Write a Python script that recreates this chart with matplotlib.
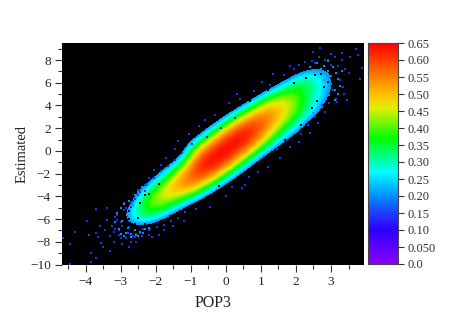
import matplotlib
matplotlib.use('Agg')
import matplotlib.pyplot as plt
import numpy as np
from matplotlib.colors import LinearSegmentedColormap

plt.rcParams['font.family'] = ['Liberation Serif', 'DejaVu Serif']

# density: rows from top (y = 9) to bottom, columns left to right
density = [
    [0, 0, 0, 0, 0, 0, 0, 0, 0, 0, 0, 0, 0, 0, 0, 0, 0],
    [0, 0, 0, 0, 0, 0, 0, 0, 0, 0, 0, 0, 0, 0, .08, .08, 0],
    [0, 0, 0, 0, 0, 0, 0, 0, 0, 0, 0, 0, 0, .20, .24, .16, 0],
    [0, 0, 0, 0, 0, 0, 0, 0, 0, 0, 0, 0, .22, .36, .28, .17, 0],
    [0, 0, 0, 0, 0, 0, 0, 0, 0, 0, 0, .24, .40, .38, .28, .16, 0],
    [0, 0, 0, 0, 0, 0, 0, 0, 0, 0, .24, .47, .49, .38, .25, .08, 0],
    [0, 0, 0, 0, 0, 0, 0, 0, 0, .24, .49, .58, .49, .34, .20, 0, 0],
    [0, 0, 0, 0, 0, 0, 0, 0, .20, .50, .63, .58, .40, .25, 0, 0, 0],
    [0, 0, 0, 0, 0, 0, 0, .15, .47, .64, .66, .50, .28, .10, 0, 0, 0],
    [0, 0, 0, 0, 0, 0, 0, .42, .62, .68, .58, .33, .10, 0, 0, 0, 0],
    [0, 0, 0, 0, 0, 0, .17, .58, .68, .62, .39, .10, 0, 0, 0, 0, 0],
    [0, 0, 0, 0, 0, .14, .41, .64, .63, .44, .14, 0, 0, 0, 0, 0, 0],
    [0, 0, 0, 0, .08, .33, .54, .60, .46, .18, 0, 0, 0, 0, 0, 0, 0],
    [0, 0, 0, 0, .26, .47, .53, .44, .20, 0, 0, 0, 0, 0, 0, 0, 0],
    [0, 0, 0, .10, .38, .46, .36, .18, 0, 0, 0, 0, 0, 0, 0, 0, 0],
    [0, 0, 0, .20, .37, .34, .15, 0, 0, 0, 0, 0, 0, 0, 0, 0, 0],
    [0, 0, 0, .17, .25, .12, 0, 0, 0, 0, 0, 0, 0, 0, 0, 0, 0],
    [0, 0, 0, 0, 0, 0, 0, 0, 0, 0, 0, 0, 0, 0, 0, 0, 0],
    [0, 0, 0, 0, 0, 0, 0, 0, 0, 0, 0, 0, 0, 0, 0, 0, 0],
    [0, 0, 0, 0, 0, 0, 0, 0, 0, 0, 0, 0, 0, 0, 0, 0, 0],
]

# isolated blue pixels around the cloud
stray_x = [-4.64, -4.45, -4.3, -3.95, -3.9, -3.85, -3.85, -3.7, -4.45, -3.7, -3.65, -3.55, -3.6, -3.5,
           -3.45, -3.4, -3.4, -3.7, -3.3, -3.3, -3.25, -3.2, -3.15, -3.1, -3.05, -3.0, -2.95, -2.9,
           -2.85, -2.75, -2.7, -2.65, -2.8, -2.7, -2.6, -2.55, -2.5, -2.45, -2.3, -2.2, -2.1, -1.9,
           -1.75, -1.5, -1.2, -2.2, -2.05, -1.85, -1.7, -1.45, -1.35, -1.05, -0.75, -0.6, -0.3, 0.1,
           2.68, 3.72, 3.77, 3.88, 3.82, 2.48, 3.53, 3.3, 3.0, 2.82, 2.53, 2.1, 1.82, 1.34, 1.03,
           0.31, 3.45, 3.16, 3.36, 2.82, 2.62, 2.4, 2.1, 1.82, 1.54, 1.2, 0.91, 0.54, 0.17,
           -3.2, -3.1, -3.0, -2.9, -2.8, -2.7, -2.6, -2.5, -2.4, -2.3, -2.2, -3.15, -3.05, -2.95, -2.85, -2.75,
           -2.65, -2.55, -2.45, -2.35, -2.25, -2.15, -2.05, -1.95, -1.85, -1.75, -1.65, -1.55, -1.45, -1.35,
           -1.25, -1.15, -0.95, -0.85, -0.55, -0.45, -0.15, 0.0, 0.25, 0.45,
           2.9, 3.0, 3.1, 3.2, 3.3, 3.4, 3.5, 2.95, 3.05, 3.15, 3.25, 3.35, 2.75, 2.65, 2.55, 2.45, 2.35, 2.25,
           2.15, 1.95, 1.75, 1.65, 1.45, 1.25, 1.1, 0.8, 0.65, 0.4]
stray_y = [-7.7, -8.2, -7.1, -6.2, -7.4, -9.0, -9.8, -9.4, -9.95, -7.2, -7.6, -8.1, -6.6, -8.5,
           -7.0, -6.1, -5.0, -5.1, -7.5, -8.8, -6.6, -8.0, -6.9, -5.6, -7.4, -6.3, -8.2, -4.6,
           -7.7, -8.5, -8.0, -7.5, -5.4, -4.9, -4.2, -8.0, -3.4, -7.2, -3.0, -7.4, -7.6, -7.4,
           -7.0, -6.6, -6.2, -2.4, -1.7, -1.2, -0.6, 0.2, 0.85, 1.5, 2.2, 2.7, 3.2, 4.2,
           9.05, 8.95, 8.4, 7.3, 6.3, 8.7, 8.3, 8.6, 8.55, 8.0, 7.7, 7.6, 7.5, 6.8, 6.1,
           5.0, 4.5, 4.3, 5.0, 3.4, 2.5, 1.6, 0.8, 0.35, -0.6, -1.4, -1.9, -3.0, -3.2,
           -7.1, -6.1, -7.7, -5.2, -7.2, -4.6, -7.6, -3.9, -7.5, -3.5, -7.0, -5.8, -7.0, -6.6, -5.0, -6.7,
           -4.4, -7.3, -3.6, -6.9, -3.0, -6.9, -2.4, -6.7, -1.8, -6.5, -1.3, -6.2, -0.8, -5.9,
           -0.2, -5.4, 0.6, -5.1, 1.2, -4.9, 2.0, -4.0, 2.9, -3.3,
           8.0, 7.6, 8.3, 7.5, 8.0, 7.2, 6.9, 4.2, 5.4, 4.6, 6.2, 5.6, 4.0, 8.3, 3.0, 7.9, 2.3, 7.8,
           1.5, 7.2, 1.0, 6.7, 0.2, 5.8, -0.5, 5.3, -2.3, 4.6]

# lighter pixels in the two noisy ends of the cloud
light_x = [-3.15, -3.1, -3.05, -3.0, -2.95, -2.9, -2.85, -2.8, -2.8, -2.75, -2.7, -2.65, -2.6, -2.6, -2.55,
           -2.5, -2.45, -2.4, -2.35, -2.3, -2.25, -2.2, -3.0, -2.9, -2.7, -2.5,
           2.7, 2.75, 2.8, 2.85, 2.9, 2.95, 3.0, 3.05, 3.1, 3.15, 3.2, 3.25, 3.3, 2.6, 2.5, 2.4, 2.3,
           2.9, 3.0, 3.1, 2.8, 3.2]
light_y = [-6.3, -5.5, -6.9, -5.0, -6.2, -4.7, -7.2, -5.4, -6.8, -4.4, -7.3, -4.8, -3.9, -7.0, -7.4,
           -3.6, -7.1, -3.2, -7.2, -6.9, -2.9, -6.8, -7.3, -7.5, -7.6, -7.5,
           7.2, 3.9, 7.5, 4.6, 7.0, 4.9, 6.6, 7.4, 5.4, 6.9, 6.3, 5.7, 7.0, 7.7, 3.3, 7.4, 2.6,
           7.9, 5.9, 4.5, 6.2, 5.0]

# black holes in the speckled rim
hole_x = [-3.0, -2.85, -2.75, -2.6, -2.45, -2.3, -2.2, -2.1, -1.9, -1.6, -1.3, -2.75, -2.5, -2.3,
          2.6, 2.7, 2.8, 2.55, 2.45, 2.3, 2.15, 1.95, 1.7, 2.9, 3.0, 1.2, 0.7, -0.6, -0.2]
hole_y = [-5.9, -6.3, -5.3, -6.4, -4.6, -6.4, -3.8, -6.5, -2.9, -5.7, -5.3, -6.0, -5.9, -3.9,
          4.4, 6.8, 5.6, 6.7, 3.8, 6.4, 2.3, 6.0, 1.0, 6.1, 6.4, 5.4, 4.4, 2.2, -3.1]

x_ticks = [-4, -3, -2, -1, 0, 1, 2, 3]
y_ticks = [-10, -8, -6, -4, -2, 0, 2, 4, 6, 8]
bar_ticks = [0.0, 0.05, 0.10, 0.15, 0.20, 0.25, 0.30, 0.35, 0.40, 0.45, 0.50, 0.55, 0.60, 0.65]
bar_labels = ['0.0', '0.050', '0.10', '0.15', '0.20', '0.25', '0.30', '0.35', '0.40', '0.45', '0.50', '0.55', '0.60', '0.65']

vmax = 0.65
cut = 0.2  # below this the cloud breaks up into black
stops = [(0.0, '#8c00ff'), (0.10, '#2a00ff'), (0.15, '#2040ff'), (0.20, '#0090ff'), (0.27, '#00ffff'),
         (0.32, '#00ff80'), (0.37, '#00ff00'), (0.46, '#e6ee00'), (0.50, '#ffc000'), (0.55, '#ff8000'),
         (0.65, '#ff0000')]
bar_cmap = LinearSegmentedColormap.from_list('rainbow_origin', [(v / vmax, c) for v, c in stops], N=256)
cmap = LinearSegmentedColormap.from_list('cloud', [((v - cut) / (vmax - cut), c) for v, c in stops if v >= cut], N=256)
cmap.set_under('black')

W, H = 450, 322
fig = plt.figure(figsize=(W / 100, H / 100), dpi=100)
ax = fig.add_axes([62 / W, 1 - 264.5 / H, 302 / W, 221.5 / H])
cax = fig.add_axes([368 / W, 1 - 264 / H, 30 / W, 221 / H])

ax.set_facecolor('black')
ax.imshow(density, extent=(-4.67, 3.94, -10, 9.5), aspect='auto', cmap=cmap, vmin=cut, vmax=vmax,
          interpolation='bicubic')
ax.scatter(stray_x, stray_y, s=1.6, marker='s', c='#1a30ff', linewidths=0)
ax.scatter(light_x, light_y, s=3, marker='s', c='#0090ff', linewidths=0)
ax.scatter(hole_x, hole_y, s=1.6, marker='s', c='black', linewidths=0)
ax.set_xlim(-4.67, 3.94)
ax.set_ylim(-10, 9.5)

ax.set_xticks(x_ticks)
ax.set_xticks(np.arange(-4.5, 4, 1), minor=True)
ax.set_yticks(y_ticks)
ax.set_yticks(np.arange(-9, 10, 2), minor=True)
ax.tick_params(which='major', length=5, width=0.8, color='#333333', labelsize=9.5, pad=3, labelcolor='#222222')
ax.tick_params(which='minor', length=3, width=0.8, color='#333333')
for s in ax.spines.values():
    s.set_visible(False)
ax.set_xlabel('POP3', fontsize=11.5, color='#222222', labelpad=5)
ax.set_ylabel('Estimated', fontsize=10.5, color='#222222', labelpad=1)

# colourbar drawn from the same colours
cax.imshow(np.linspace(vmax, 0, 256).reshape(-1, 1), extent=(0, 1, 0, vmax), aspect='auto',
           cmap=bar_cmap, vmin=0, vmax=vmax)
cax.set_xticks([])
cax.yaxis.tick_right()
cax.set_yticks(bar_ticks)
cax.set_yticklabels(bar_labels)
cax.tick_params(length=4, width=0.8, color='#333333', labelsize=9, pad=3, labelcolor='#333333')
for s in cax.spines.values():
    s.set_color('#444444')
    s.set_linewidth(0.8)

fig.savefig('out.png', dpi=100)
